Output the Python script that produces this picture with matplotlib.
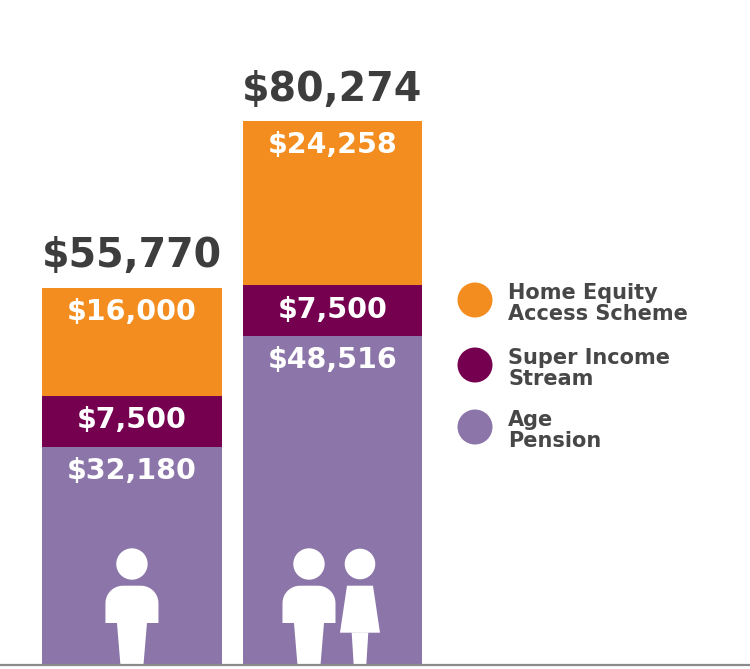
import numpy as np
import matplotlib
matplotlib.use("Agg")
import matplotlib.pyplot as plt
from matplotlib.patches import Circle, Polygon
from matplotlib.transforms import IdentityTransform

# ---- data ----
households = ["Single", "Couple"]
series_names = ["Age Pension", "Super Income Stream", "Home Equity Access Scheme"]
legend_labels = ["Home Equity\nAccess Scheme", "Super Income\nStream", "Age\nPension"]
age_pension = [32180, 48516]
super_income = [7500, 7500]
home_equity = [16000, 24258]
totals = [55770, 80274]

colors = {"Age Pension": "#8C76A9",
          "Super Income Stream": "#74004F",
          "Home Equity Access Scheme": "#F38D1F"}

plt.rcParams['font.family'] = ['DejaVu Sans']

fig = plt.figure(figsize=(7.5, 6.69), dpi=100)
ax = fig.add_axes([0, 4 / 669, 1, 665 / 669])
ax.set_xlim(-0.658, 3.082)
ax.set_ylim(0, 98100)
ax.axis('off')

x = np.arange(len(households))
width = 0.895
stack = [("Age Pension", age_pension),
         ("Super Income Stream", super_income),
         ("Home Equity Access Scheme", home_equity)]
bottom = np.zeros(len(households))
for name, vals in stack:
    vals = np.array(vals, dtype=float)
    ax.bar(x, vals, width, bottom=bottom, color=colors[name], linewidth=0, zorder=2)
    for xi, b, v in zip(x, bottom, vals):
        ax.annotate(f"${v:,.0f}", (xi, b + v), xytext=(0, -17.5), textcoords='offset points',
                    ha='center', va='center', color='white', fontsize=20.5,
                    fontweight='bold', zorder=5)
    bottom += vals

for xi, t in zip(x, totals):
    ax.annotate(f"${t:,.0f}", (xi, t), xytext=(0, 22.5), textcoords='offset points',
                ha='center', va='center', color='#3d3d3d', fontsize=28.5,
                fontweight='bold', zorder=5)

# baseline
ax.axhline(0, color='#8a8a8a', lw=1.6, clip_on=False, zorder=6)

# ---- person icons (display pixels) ----
ident = IdentityTransform()


def man(cx, base):
    r = 17.5
    hw = 26.5
    top = 79.3
    bot = 42
    pts = [(-hw, bot), (-hw, top - r)]
    for a in np.linspace(np.pi, np.pi / 2, 12):
        pts.append((-hw + r + r * np.cos(a), top - r + r * np.sin(a)))
    for a in np.linspace(np.pi / 2, 0, 12):
        pts.append((hw - r + r * np.cos(a), top - r + r * np.sin(a)))
    pts += [(hw, bot), (15, bot), (11.5, 0), (-11.5, 0), (-15, bot)]
    pts = [(cx + px, base + py) for px, py in pts]
    ax.add_patch(Polygon(pts, closed=True, facecolor='white', edgecolor='none',
                         transform=ident, zorder=4))
    ax.add_patch(Circle((cx, base + 101), 15.7, facecolor='white', edgecolor='none',
                        transform=ident, zorder=4))


def woman(cx, base):
    dress = [(-13, 79.3), (13, 79.3), (20, 32.3), (-20, 32.3)]
    legs = [(-8.3, 32.5), (8.3, 32.5), (6.3, 0), (-6.3, 0)]
    for shape in (dress, legs):
        pts = [(cx + px, base + py) for px, py in shape]
        ax.add_patch(Polygon(pts, closed=True, facecolor='white', edgecolor='none',
                             transform=ident, zorder=4))
    ax.add_patch(Circle((cx, base + 101), 15.3, facecolor='white', edgecolor='none',
                        transform=ident, zorder=4))


fig.canvas.draw()
c0 = ax.transData.transform((x[0], 0))
c1 = ax.transData.transform((x[1], 0))
man(c0[0], c0[1])
man(c1[0] - 23.5, c1[1])
woman(c1[0] + 27.5, c1[1])

# ---- legend ----
leg_names = ["Home Equity Access Scheme", "Super Income Stream", "Age Pension"]
leg_y_px = [300, 365, 427]
H = 669
for name, lab, yp in zip(leg_names, legend_labels, leg_y_px):
    fig.patches.append(Circle((475, H - yp), 17.5, facecolor=colors[name],
                              edgecolor='none', transform=ident))
    fig.text(508 / 750, (H - yp - 3.5) / H, lab, ha='left', va='center', fontsize=15,
             fontweight='bold', color='#474747', linespacing=1.08)

fig.savefig("out.png", dpi=100)
